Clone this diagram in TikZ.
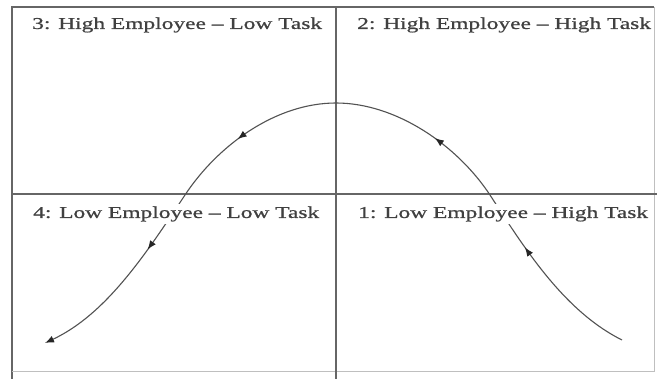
\documentclass[tikz,border=0pt]{standalone}
\usepackage{fontspec}
\setmainfont{Liberation Serif}
\newfontfamily\quadfont[Ligatures=TeX,FakeStretch=1.42,FakeBold=0.8]{Liberation Serif}
\usetikzlibrary{arrows.meta,decorations.markings}

\tikzset{
	frameline/.style={line width=1.4pt, draw=black!60},
	quadlabel/.style={anchor=west, fill=white, inner sep=2pt, text=black!75,
		font=\quadfont\fontsize{16.5}{18}\selectfont},
	curveline/.style={line width=1.1pt, draw=black!68},
	flowtip/.tip={Latex[length=9pt, width=7pt, black!85]}
}

\begin{document}
\begin{tikzpicture}[x=1pt, y=-1pt]
	
	% Parameters
	\def\W{657}
	\def\H{379}
	\def\midX{336} % vertical divider
	\def\midY{194} % horizontal divider
	
	\useasboundingbox (0,0) rectangle (\W,\H);
	\fill[white] (0,0) rectangle (\W,\H);
	
	% -----------------------------
	% Frame and dividers
	% -----------------------------
	\draw[frameline] (12,\H) -- (12,7) -- (654,7);
	\draw[line width=1pt, draw=black!25] (654,7) -- (654,372) -- (12,372);
	\draw[frameline] (\midX,7) -- (\midX,\H);
	\draw[frameline] (12,\midY) -- (\W,\midY);
	
	% -----------------------------
	% Curve (1 -> 2 -> 3 -> 4)
	% -----------------------------
	\draw[curveline, -flowtip,
		postaction={decorate, decoration={markings,
			mark=at position 0.175 with {\arrow{flowtip}},
			mark=at position 0.359 with {\arrow{flowtip}},
			mark=at position 0.634 with {\arrow{flowtip}},
			mark=at position 0.819 with {\arrow{flowtip}}}}]
	(622,340) .. controls (564,311) and (525,249) .. (490,195)
	          .. controls (457,145) and (396,103) .. (336,103)
	          .. controls (276,103) and (218,145) .. (185,195)
	          .. controls (147,252) and (107,314) .. (45,343);
	
	% -----------------------------
	% Quadrant labels
	% -----------------------------
	\node[quadlabel] (q3) at (30,25) {3: High Employee -- Low Task};
	\node[quadlabel] (q2) at (355,25) {2: High Employee -- High Task};
	\node[quadlabel] (q4) at (31,214) {4: Low Employee -- Low Task};
	\node[quadlabel] (q1) at (356,214) {1: Low Employee -- High Task};
	
\end{tikzpicture}
\end{document}
